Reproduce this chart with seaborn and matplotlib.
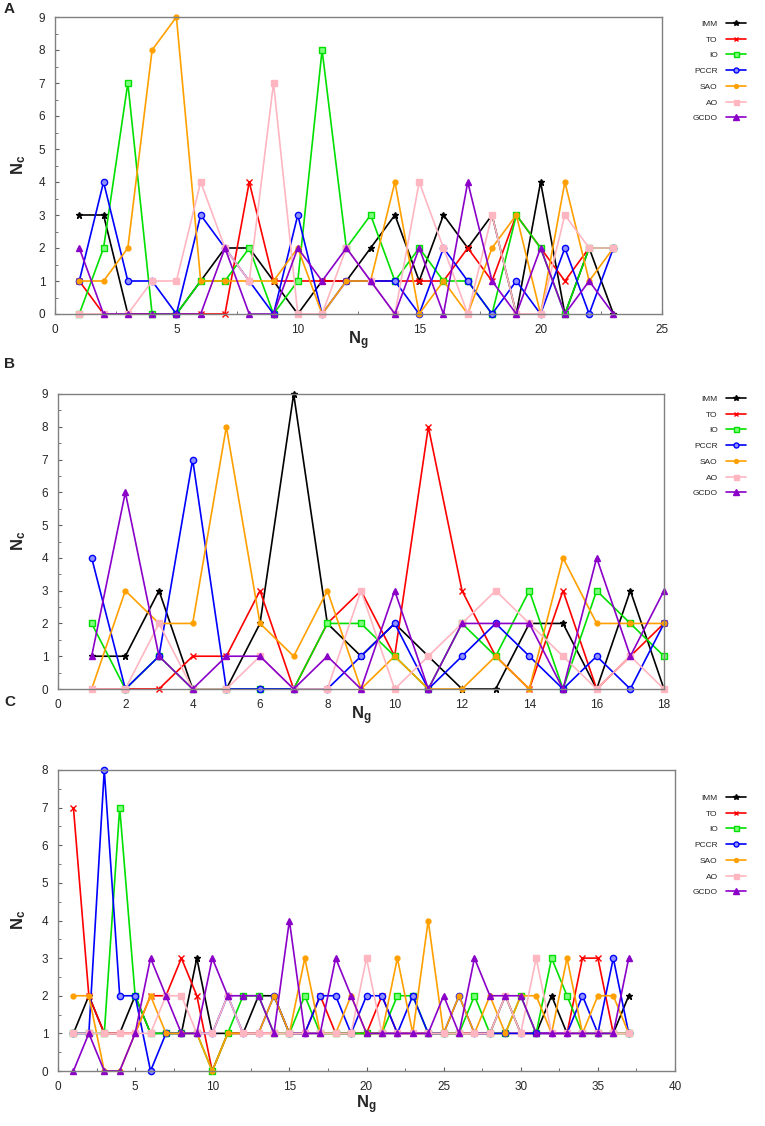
import pandas as pd
import seaborn as sns
import matplotlib.pyplot as plt
from matplotlib.lines import Line2D
from matplotlib.ticker import MultipleLocator

methods = ['IMM', 'TO', 'IO', 'PCCR', 'SAO', 'AO', 'GCDO']

# panel A, Ng = 1..23
a_imm = [3, 3, 0, 0, 0, 1, 2, 2, 1, 0, 1, 1, 2, 3, 1, 3, 2, 3, 0, 4, 0, 2, 0]
a_to = [1, 0, 0, 0, 0, 0, 0, 4, 1, 1, 1, 1, 1, 1, 1, 1, 2, 1, 3, 2, 1, 2, 2]
a_io = [0, 2, 7, 0, 0, 1, 1, 2, 0, 1, 8, 2, 3, 1, 2, 1, 1, 0, 3, 2, 0, 2, 2]
a_pccr = [1, 4, 1, 1, 0, 3, 2, 1, 0, 3, 0, 1, 1, 1, 0, 2, 1, 0, 1, 0, 2, 0, 2]
a_sao = [1, 1, 2, 8, 9, 1, 1, 1, 1, 2, 0, 1, 1, 4, 0, 1, 0, 2, 3, 0, 4, 1, 2]
a_ao = [0, 0, 0, 1, 1, 4, 2, 1, 7, 0, 0, 2, 1, 0, 4, 2, 0, 3, 0, 0, 3, 2, 2]
a_gcdo = [2, 0, 0, 0, 0, 0, 2, 0, 0, 2, 1, 2, 1, 0, 2, 0, 4, 1, 0, 2, 0, 1, 0]

# panel B, Ng = 1..18
b_imm = [1, 1, 3, 0, 0, 2, 9, 2, 1, 2, 1, 0, 0, 2, 2, 0, 3, 0]
b_to = [0, 0, 0, 1, 1, 3, 0, 2, 3, 1, 8, 3, 1, 0, 3, 0, 1, 2]
b_io = [2, 0, 1, 0, 0, 0, 0, 2, 2, 1, 0, 2, 1, 3, 0, 3, 2, 1]
b_pccr = [4, 0, 1, 7, 0, 0, 0, 0, 1, 2, 0, 1, 2, 1, 0, 1, 0, 2]
b_sao = [0, 3, 2, 2, 8, 2, 1, 3, 0, 1, 0, 0, 1, 0, 4, 2, 2, 2]
b_ao = [0, 0, 2, 0, 0, 1, 0, 0, 3, 0, 1, 2, 3, 2, 1, 0, 1, 0]
b_gcdo = [1, 6, 1, 0, 1, 1, 0, 1, 0, 3, 0, 2, 2, 2, 0, 4, 1, 3]

# panel C, Ng = 1..37
c_imm = [1, 2, 1, 1, 2, 1, 1, 1, 3, 1, 1, 1, 2, 2, 1, 1, 1, 1, 1, 1, 1, 1, 1, 1, 1,
         1, 1, 1, 2, 1, 1, 2, 1, 1, 1, 1, 2]
c_to = [7, 2, 1, 1, 1, 2, 2, 3, 2, 0, 1, 1, 1, 1, 1, 1, 2, 1, 1, 1, 2, 1, 1, 1, 1,
        1, 1, 1, 1, 1, 1, 1, 1, 3, 3, 1, 1]
c_io = [1, 1, 1, 7, 2, 1, 1, 1, 1, 0, 1, 2, 2, 1, 1, 2, 1, 1, 1, 1, 1, 2, 2, 1, 1,
        1, 2, 1, 1, 2, 1, 3, 2, 1, 1, 1, 1]
c_pccr = [1, 1, 8, 2, 2, 0, 1, 1, 1, 1, 2, 1, 1, 2, 1, 1, 2, 2, 1, 2, 2, 1, 2, 1, 1,
          2, 1, 1, 1, 1, 1, 1, 1, 2, 1, 3, 1]
c_sao = [2, 2, 0, 0, 1, 2, 1, 1, 1, 0, 1, 1, 1, 2, 1, 3, 1, 1, 2, 1, 1, 3, 1, 4, 1,
         2, 1, 2, 1, 2, 2, 1, 3, 1, 2, 2, 1]
c_ao = [1, 1, 1, 1, 1, 1, 2, 2, 1, 1, 2, 1, 1, 1, 1, 1, 1, 1, 1, 3, 1, 1, 1, 1, 1,
        1, 1, 1, 2, 1, 3, 1, 1, 1, 1, 1, 1]
c_gcdo = [0, 1, 0, 0, 1, 3, 2, 1, 1, 3, 2, 2, 2, 1, 4, 1, 1, 3, 2, 1, 1, 1, 1, 1, 2,
          1, 3, 2, 2, 2, 1, 1, 1, 1, 1, 1, 3]

panels = {
    'A': [a_imm, a_to, a_io, a_pccr, a_sao, a_ao, a_gcdo],
    'B': [b_imm, b_to, b_io, b_pccr, b_sao, b_ao, b_gcdo],
    'C': [c_imm, c_to, c_io, c_pccr, c_sao, c_ao, c_gcdo],
}

styles = {
    'IMM': dict(color='black', marker='*', markersize=5, mfc='black'),
    'TO': dict(color='#ff0000', marker='x', markersize=4, mfc='#ff0000'),
    'IO': dict(color='#00e000', marker='s', markersize=4.5, mfc='#7dff7d'),
    'PCCR': dict(color='#0000ff', marker='o', markersize=4.5, mfc='#9090ff'),
    'SAO': dict(color='#ffa000', marker='o', markersize=3.5, mfc='#ffa000'),
    'AO': dict(color='#ffb6c1', marker='s', markersize=4.5, mfc='#ffb6c1'),
    'GCDO': dict(color='#8a00c8', marker='^', markersize=5, mfc='#8a00c8'),
}

sns.set_style('ticks')
plt.rcParams['font.family'] = ['Liberation Sans', 'DejaVu Sans']
plt.rcParams['mathtext.fontset'] = 'custom'
plt.rcParams['mathtext.bf'] = 'Liberation Sans:bold'
plt.rcParams['mathtext.rm'] = 'Liberation Sans'

W, H = 765, 1126
fig = plt.figure(figsize=(W / 100, H / 100), dpi=100)


def px_rect(left, right, top, bottom):
    return [left / W, 1 - bottom / H, (right - left) / W, (bottom - top) / H]


# axes boxes in pixels: left, right, top, bottom
layout = {
    'A': dict(box=(55, 662, 17, 314), xmax=25, ymax=9, xmaj=5, xmin=2.5,
              leg_top=20, xlab_y=341, ylab_y=165, tag_y=9),
    'B': dict(box=(58, 664, 394, 689), xmax=18, ymax=9, xmaj=2, xmin=1,
              leg_top=395, xlab_y=716, ylab_y=541, tag_y=364),
    'C': dict(box=(58, 675, 770, 1071), xmax=40, ymax=8, xmaj=5, xmin=2.5,
              leg_top=794, xlab_y=1105, ylab_y=920, tag_y=702),
}

for tag, series in panels.items():
    cfg = layout[tag]
    l, r, t, b = cfg['box']
    ax = fig.add_axes(px_rect(l, r, t, b))
    frames = []
    for name, vals in zip(methods, series):
        frames.append(pd.DataFrame({'Ng': range(1, len(vals) + 1), 'Nc': vals, 'method': name}))
    df = pd.concat(frames, ignore_index=True)

    for name in methods:
        st = styles[name]
        sub = df[df['method'] == name]
        sns.lineplot(data=sub, x='Ng', y='Nc', ax=ax, color=st['color'],
                     marker=st['marker'], markersize=st['markersize'],
                     markerfacecolor=st['mfc'], markeredgecolor=st['color'],
                     markeredgewidth=1.0, linewidth=1.2, legend=False,
                     clip_on=False)

    ax.set_xlim(0, cfg['xmax'])
    ax.set_ylim(0, cfg['ymax'])
    ax.xaxis.set_major_locator(MultipleLocator(cfg['xmaj']))
    ax.xaxis.set_minor_locator(MultipleLocator(cfg['xmin']))
    ax.yaxis.set_major_locator(MultipleLocator(1))
    ax.yaxis.set_minor_locator(MultipleLocator(0.5))
    ax.tick_params(which='both', direction='in', color='#606060', labelsize=8.5,
                   top=False, right=False)
    ax.tick_params(which='major', length=3, width=0.8)
    ax.tick_params(which='minor', length=2, width=0.6)
    ax.tick_params(axis='x', pad=7)
    ax.tick_params(axis='y', pad=7)
    for sp in ax.spines.values():
        sp.set_color('#808080')
        sp.set_linewidth(1.0)
    ax.set_xlabel('')
    ax.set_ylabel('')

    fig.text((l + r) / 2 / W, 1 - cfg['xlab_y'] / H, r'$\mathbf{N_g}$',
             ha='center', va='center', fontsize=12)
    fig.text(19 / W, 1 - cfg['ylab_y'] / H, r'$\mathbf{N_c}$', rotation=90,
             ha='center', va='center', fontsize=12)
    fig.text(4 / W, 1 - cfg['tag_y'] / H, tag, ha='left', va='center',
             fontsize=11, fontweight='bold')

    handles = [Line2D([], [], color=styles[m]['color'], marker=styles[m]['marker'],
                      markersize=styles[m]['markersize'] * 0.8,
                      markerfacecolor=styles[m]['mfc'],
                      markeredgecolor=styles[m]['color'], linewidth=1.2)
               for m in methods]
    ax.legend(handles, methods, loc='upper right', markerfirst=False,
              bbox_to_anchor=(746 / W, 1 - cfg['leg_top'] / H),
              bbox_transform=fig.transFigure, frameon=False, fontsize=6,
              handlelength=2.4, handletextpad=1.0, labelspacing=0.95,
              borderpad=0, borderaxespad=0)

fig.savefig('out.png', dpi=100)
